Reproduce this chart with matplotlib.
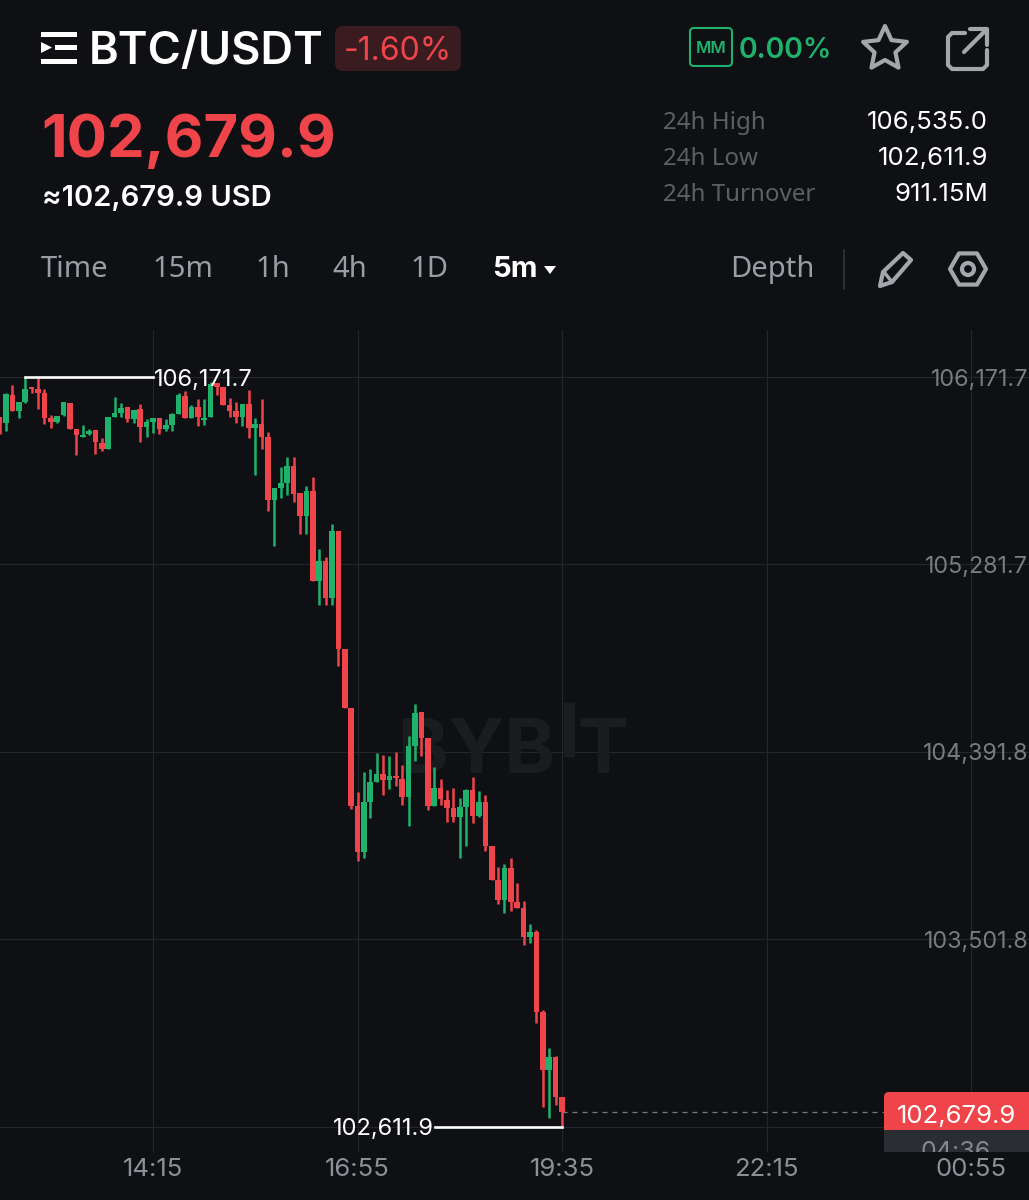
import numpy as np
import matplotlib
matplotlib.use('Agg')
import matplotlib.pyplot as plt
from matplotlib.patches import Rectangle, FancyBboxPatch, Polygon, Circle

W, H = 1029, 1200
BG = '#0f1014'
RED = '#ef454a'
GREEN = '#20b26c'
GRID = '#25262b'
UI = 'Noto Sans'
NUM = 'Inter'

# candle number counted from the 14:15 gridline, one candle = 5 minutes
candle_idx = list(range(-24, 65))
opens = [105983, 105954, 106086, 106011, 106051, 106125, 106114, 106097, 105978, 105956,
         105991, 106049, 105924, 105885, 105901, 105918, 105859, 105832, 105983, 106002,
         106027, 105972, 106018, 105935, 105956, 105978, 105924, 105943, 105994, 106081,
         105978, 106030, 105967, 105980, 106144, 106125, 106038, 106011, 105983, 106043,
         105931, 105948, 105885, 105587, 105643, 105669, 105750, 105619, 105513, 105630,
         105203, 105300, 105124, 105441, 104879, 104602, 104136, 103918, 104155, 104250,
         104287, 104258, 104277, 104263, 104176, 104417, 104580, 104456, 104132, 104219,
         104163, 104124, 104084, 104128, 104211, 104087, 104151, 103946, 103782, 103688,
         103839, 103677, 103649, 103511, 103535, 103155, 102881, 102944, 102754]
highs = [105983, 106094, 106133, 106054, 106172, 106125, 106165, 106114, 105991, 105988,
         106051, 106049, 105924, 105946, 105924, 105918, 105883, 105983, 106078, 106049,
         106027, 106015, 106043, 105970, 105975, 105978, 105972, 105999, 106094, 106106,
         106041, 106065, 106065, 106149, 106144, 106125, 106070, 106054, 106043, 106110,
         105975, 106065, 105912, 105646, 105745, 105790, 105793, 105622, 105654, 105698,
         105354, 105319, 105474, 105441, 104879, 104602, 104200, 104295, 104309, 104385,
         104377, 104372, 104390, 104330, 104467, 104618, 104580, 104456, 104318, 104263,
         104211, 104219, 104174, 104214, 104274, 104206, 104187, 103946, 103846, 103858,
         103886, 103767, 103685, 103573, 103546, 103166, 102987, 102947, 102754]
lows = [105901, 105915, 106011, 105975, 106046, 106097, 106018, 105948, 105931, 105951,
        105988, 105927, 105802, 105885, 105894, 105806, 105821, 105832, 105983, 105980,
        105956, 105954, 105861, 105885, 105908, 105901, 105916, 105916, 105994, 105978,
        105978, 105940, 105943, 105980, 106086, 106038, 105980, 105951, 105940, 105883,
        105706, 105832, 105535, 105370, 105595, 105611, 105576, 105424, 105426, 105201,
        105088, 105088, 105088, 104801, 104602, 104121, 103874, 103886, 104076, 104246,
        104187, 104216, 104227, 104140, 104037, 104350, 104374, 104116, 104132, 104140,
        104060, 104060, 103889, 103942, 104052, 104081, 103921, 103782, 103668, 103625,
        103637, 103650, 103474, 103482, 103102, 102707, 102651, 102715, 102612]
closes = [105951, 106089, 106011, 106054, 106117, 106114, 106097, 105975, 105958, 105988,
          106051, 105927, 105897, 105893, 105916, 105861, 105829, 105983, 105999, 106026,
          105972, 106015, 105935, 105956, 105975, 105927, 105942, 105994, 106086, 105978,
          106030, 105980, 105975, 106138, 106125, 106038, 106011, 105980, 106043, 105931,
          105948, 105885, 105587, 105643, 105666, 105750, 105614, 105513, 105630, 105201,
          105300, 105124, 105441, 104880, 104602, 104136, 103918, 104152, 104250, 104287,
          104258, 104277, 104266, 104176, 104417, 104575, 104456, 104132, 104219, 104166,
          104124, 104084, 104128, 104211, 104089, 104151, 103946, 103782, 103688, 103839,
          103680, 103650, 103514, 103535, 103155, 102881, 102944, 102754, 102680]

price_ticks = [106171.7, 105281.7, 104391.8, 103501.8, 102611.9]
price_labels = ['106,171.7', '105,281.7', '104,391.8', '103,501.8', '102,611.9']
time_ticks = [0, 32, 64, 96, 128]
time_labels = ['14:15', '16:55', '19:35', '22:15', '00:55']

high_price, high_label, high_idx = 106171.7, '106,171.7', -20
low_price, low_label, low_idx = 102611.9, '102,611.9', 64
last_price = 102679.9

fig = plt.figure(figsize=(W / 100, H / 100), dpi=100, facecolor=BG)

# chart area in pixels, the scales are fixed from the gridlines in the picture
top, bottom = 330, 1152
ax = fig.add_axes([0, 1 - bottom / H, 1, (bottom - top) / H], facecolor=BG)
px_per_candle = 204.5 / 32
px_per_usd = 187.4 / 890.0
ax.set_xlim(-153 / px_per_candle, (W - 153) / px_per_candle)
ax.set_ylim(106171.7 - (bottom - 377) / px_per_usd, 106171.7 + (377 - top) / px_per_usd)
for s in ax.spines.values():
    s.set_visible(False)


def xpx(x):
    return (x - 153) / px_per_candle


def ypx(y):
    return 106171.7 - (y - 377) / px_per_usd


ax.set_xticks(time_ticks)
ax.set_xticklabels(time_labels, fontfamily=NUM, fontsize=18.5, color='#8d9096')
ax.set_yticks(price_ticks)
ax.set_yticklabels(price_labels, fontfamily=NUM, fontsize=16.8, color='#797b81', ha='right')
ax.tick_params(axis='x', length=0, pad=4)
ax.tick_params(axis='y', length=0, pad=-0.5, labelleft=False, labelright=True)
ax.grid(True, color=GRID, lw=0.8)
ax.set_axisbelow(True)

# watermark sits under the candles
wm = dict(fontfamily=NUM, fontweight='bold', fontsize=55, color='#1b1c20', va='baseline', zorder=1)
ax.text(xpx(398), ypx(773), 'BYB', **wm)
ax.text(xpx(577), ypx(773), 'T', **wm)
ax.vlines(xpx(569), ypx(757), ypx(702), color='#1b1c20', lw=8, zorder=1)

idx = np.array(candle_idx)
o, h, l, c = map(np.array, (opens, highs, lows, closes))
colors = [GREEN if cl >= op else RED for op, cl in zip(o, c)]
ax.vlines(idx, l, h, colors=colors, lw=1.8, zorder=3)
ax.bar(idx, np.maximum(np.abs(c - o), 10), bottom=np.minimum(o, c), width=0.88, color=colors,
       zorder=3, linewidth=0)

# high / low markers
ax.plot([high_idx, 0], [high_price, high_price], color='white', lw=1.9, zorder=4)
ax.text(0.1, high_price, high_label, color='white', fontfamily=NUM, fontsize=17, va='center_baseline',
        ha='left', zorder=5)
ax.plot([44.2, low_idx], [low_price, low_price], color='white', lw=1.9, zorder=4)
ax.text(44.0, low_price, low_label, color='white', fontfamily=NUM, fontsize=17, va='center_baseline',
        ha='right', zorder=5)
ax.plot([64, xpx(884)], [last_price, last_price], color='#77797e', lw=0.9, dashes=(4, 4), zorder=2)

# everything outside the chart is drawn on a pixel overlay
ui = fig.add_axes([0, 0, 1, 1], facecolor='none', zorder=5)
ui.set_xlim(0, W)
ui.set_ylim(H, 0)
ui.axis('off')


def label(x, y, s, size, color='white', weight='normal', family=UI, ha='left', va='baseline'):
    return ui.text(x, y, s, fontsize=size, color=color, fontweight=weight, fontfamily=family, ha=ha, va=va)


# header row
for yy in (32, 45, 59):
    ui.add_patch(Rectangle((41, yy), 36, 5, color='white', lw=0))
ui.add_patch(Rectangle((41, 44), 14, 7, color=BG, lw=0))
ui.add_patch(Polygon([[41, 42], [52, 47.5], [41, 53]], color='white', lw=0))
label(89, 64, 'BTC/USDT', 32.5, weight='semibold', family=NUM)
ui.add_patch(FancyBboxPatch((339, 30), 118, 37, boxstyle='round,pad=4,rounding_size=8', color='#3a1c20', lw=0))
label(398, 60, '-1.60%', 23, color=RED, family=NUM, ha='center')

ui.add_patch(FancyBboxPatch((692, 30), 38, 34, boxstyle='round,pad=2,rounding_size=4', facecolor='none',
                            edgecolor=GREEN, lw=1.5))
label(711, 53, 'MM', 12, color=GREEN, weight='semibold', family=NUM, ha='center')
label(739, 58, '0.00%', 20.5, color=GREEN, weight='semibold', family=NUM)

angles = np.deg2rad(np.arange(-90, 270, 36))
radii = np.array([23, 11] * 5)
ui.add_patch(Polygon(np.c_[885 + radii * np.cos(angles), 49 + radii * np.sin(angles)], closed=True,
                     facecolor='none', edgecolor='#a3a6ab', lw=3, joinstyle='round'))

ui.plot([965, 952, 948, 948, 952, 983, 987, 987], [33, 33, 37, 65, 69, 69, 65, 50], color='#a3a6ab', lw=3,
        solid_joinstyle='round', solid_capstyle='round')
ui.plot([964, 986], [52, 30], color='#a3a6ab', lw=3, solid_capstyle='round')
ui.plot([970, 987, 987], [29, 29, 45], color='#a3a6ab', lw=3, solid_capstyle='round')

# price block
label(41, 157, '102,679.9', 43, color=RED, weight='bold', family=NUM)
label(42, 206, '≈102,679.9 USD', 21, weight='semibold', family=NUM)

stat_names = ['24h High', '24h Low', '24h Turnover']
stat_values = ['106,535.0', '102,611.9', '911.15M']
for yy, name, val in zip((129, 165, 201), stat_names, stat_values):
    label(663, yy, name, 17.4, color='#5d5f64')
    label(988, yy, val, 18.6, family=NUM, ha='right')

# interval tabs
for xx, s in zip((41, 152, 255, 332, 410), ('Time', '15m', '1h', '4h', '1D')):
    label(xx, 277, s, 21, color='#9a9da3')
label(492, 277, '5m', 21, weight='bold', family=NUM)
ui.add_patch(Polygon([[544, 266], [556, 266], [550, 274]], color='white', lw=0))
label(730, 277, 'Depth', 21, color='#9a9da3')
ui.plot([844, 844], [250, 289], color='#33353a', lw=1.2)

ui.add_patch(Polygon([[880, 286], [883, 272], [903, 253], [911, 260], [892, 282]], closed=True, facecolor='none',
                     edgecolor='#a3a6ab', lw=3, joinstyle='round'))
ui.plot([884, 892], [272, 282], color='#a3a6ab', lw=2.5)
hex_a = np.deg2rad(np.arange(0, 360, 60))
ui.add_patch(Polygon(np.c_[968 + 18 * np.cos(hex_a), 269 + 18 * np.sin(hex_a)], closed=True, facecolor='none',
                     edgecolor='#a3a6ab', lw=3, joinstyle='round'))
ui.add_patch(Circle((968, 269), 6, facecolor='none', edgecolor='#a3a6ab', lw=3))

# last price tag with the countdown cut off by the bottom of the chart
ui.add_patch(Rectangle((884, 1126), 145, 26, color='#2a2d31', lw=0))
timer_clip = Rectangle((884, 1130), 145, 22, transform=ui.transData)
countdown = label(956, 1159, '04:36', 18, color='#85888e', family=NUM, ha='center')
countdown.set_clip_on(True)
countdown.set_clip_path(timer_clip)
ui.add_patch(FancyBboxPatch((888, 1096), 150, 30, boxstyle='round,pad=4,rounding_size=5', color=RED, lw=0))
ui.add_patch(Rectangle((884, 1110), 10, 20, color=RED, lw=0))
label(956, 1114, '102,679.9', 18.5, family=NUM, ha='center', va='center_baseline')

fig.savefig('out.png', dpi=100, facecolor=BG)
